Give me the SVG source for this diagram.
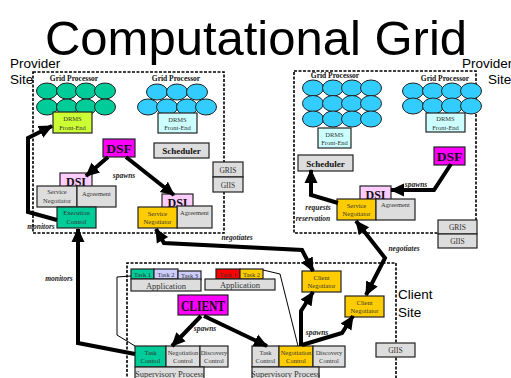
<svg xmlns="http://www.w3.org/2000/svg" width="511" height="378" viewBox="0 0 511 378">
<defs>
<style>
.site{fill:none;stroke:#000;stroke-width:1.6;stroke-dasharray:3,1.5}
.b{stroke:#222;stroke-width:1.2}
.grey{fill:#dddddd}
.green{fill:#00cc99}
.cyan{fill:#33ccff}
.mag{fill:#ff00ff}
.pink{fill:#ffccff}
.gold{fill:#ffcc00}
.lime{fill:#ccff33}
.lcyan{fill:#ccffff}
.lav{fill:#ccccff}
.red{fill:#ff0000}
.cell{stroke:#222;stroke-width:1}
.t{font-family:"Liberation Serif","Times New Roman",serif;fill:#333;text-anchor:middle}
.s6{font-size:6.5px}
.s7{font-size:7.5px}
.s8{font-size:8.5px}
.gp{font-family:"Liberation Serif",serif;font-size:7.5px;font-weight:bold;fill:#111;text-anchor:middle}
.bold{font-weight:bold;fill:#111}
.lbl{font-family:"Liberation Serif",serif;font-size:7.5px;font-style:italic;font-weight:bold;fill:#222;text-anchor:middle}
.sans{font-family:"Liberation Sans",Arial,sans-serif;fill:#000}
.arr{fill:none;stroke:#000;stroke-width:4;stroke-linejoin:miter}
.thin{fill:none;stroke:#000;stroke-width:1}
</style>
<marker id="ah" markerUnits="userSpaceOnUse" markerWidth="15" markerHeight="15" refX="13" refY="7.5" orient="auto">
<path d="M0,1 L14,7.5 L0,14 z" fill="#000"/>
</marker>
<marker id="ahs" markerUnits="userSpaceOnUse" markerWidth="15" markerHeight="15" refX="1" refY="7.5" orient="auto">
<path d="M14,1 L0,7.5 L14,14 z" fill="#000"/>
</marker>
</defs>

<!-- headings -->
<text class="sans" x="256" y="55" font-size="49" text-anchor="middle">Computational Grid</text>
<text class="sans" x="10" y="68" font-size="13.5">Provider</text>
<text class="sans" x="10" y="84" font-size="13.5">Site</text>
<text class="sans" x="462" y="68" font-size="13.5">Provider</text>
<text class="sans" x="488" y="84" font-size="13.5">Site</text>
<text class="sans" x="398" y="299" font-size="13.5">Client</text>
<text class="sans" x="398" y="317" font-size="13.5">Site</text>

<!-- site borders -->
<rect class="site" x="33" y="72" width="191" height="161"/>
<rect class="site" x="294" y="71" width="182" height="162"/>
<path class="site" d="M127,390 V263 H396 V390"/>

<!-- ===== left provider ===== -->
<g id="lp-grid-processor-1">
<text class="gp" x="74" y="81">Grid Processor</text>
<g class="green cell">
<ellipse cx="47" cy="91" rx="10.5" ry="8"/><ellipse cx="67" cy="91" rx="10.5" ry="8"/><ellipse cx="86" cy="91" rx="10.5" ry="8"/><ellipse cx="105" cy="91" rx="10.5" ry="8"/>
<ellipse cx="47" cy="107" rx="10.5" ry="8"/><ellipse cx="67" cy="107" rx="10.5" ry="8"/><ellipse cx="86" cy="107" rx="10.5" ry="8"/><ellipse cx="105" cy="107" rx="10.5" ry="8"/>
</g>
<rect class="lime b" x="53" y="112" width="39" height="21"/>
<text class="t s6" x="72.5" y="121">DRMS</text>
<text class="t s6" x="72.5" y="130">Front-End</text>
</g>

<g id="lp-grid-processor-2">
<text class="gp" x="176" y="81">Grid Processor</text>
<g class="cyan cell">
<ellipse cx="157" cy="92" rx="10.5" ry="8"/><ellipse cx="177" cy="92" rx="10.5" ry="8"/><ellipse cx="197" cy="92" rx="10.5" ry="8"/>
<ellipse cx="148" cy="107" rx="10.5" ry="8"/><ellipse cx="167" cy="107" rx="10.5" ry="8"/><ellipse cx="187" cy="107" rx="10.5" ry="8"/><ellipse cx="206" cy="107" rx="10.5" ry="8"/>
</g>
<rect class="lcyan b" x="158" y="113" width="39" height="20"/>
<text class="t s6" x="177.5" y="121.5">DRMS</text>
<text class="t s6" x="177.5" y="130">Front-End</text>
</g>

<g id="lp-dsf">
<rect class="mag b" x="103" y="139" width="32" height="18"/>
<text class="t bold" x="119" y="153" font-size="13.5">DSF</text>
</g>

<g id="lp-scheduler">
<rect class="grey b" x="154" y="143" width="55" height="15"/>
<text class="t bold" x="181.5" y="154" font-size="9">Scheduler</text>
</g>

<g id="lp-gris">
<rect class="grey b" x="213" y="162" width="30" height="15"/>
<text class="t s7" x="228" y="172.5">GRIS</text>
<rect class="grey b" x="213" y="177" width="30" height="15"/>
<text class="t s7" x="228" y="187.5">GIIS</text>
</g>

<g id="lp-dsi-1">
<rect class="pink b" x="60" y="173" width="32" height="14"/>
<text class="t bold" x="76" y="186" font-size="12">DSI</text>
<rect class="grey b" x="37" y="186" width="40" height="21"/>
<text class="t s6" x="57" y="194">Service</text>
<text class="t s6" x="57" y="202.5">Negotiator</text>
<rect class="grey b" x="77" y="186" width="39" height="21"/>
<text class="t s6" x="96.5" y="196">Agreement</text>
<rect class="green b" x="57" y="207" width="39" height="21"/>
<text class="t s6" x="76.5" y="215">Execution</text>
<text class="t s6" x="76.5" y="224">Control</text>
</g>

<g id="lp-dsi-2">
<rect class="pink b" x="162" y="194" width="31" height="14"/>
<text class="t bold" x="177.5" y="206.5" font-size="12">DSI</text>
<rect class="grey b" x="177" y="206" width="35" height="22"/>
<text class="t s6" x="194.5" y="215">Agreement</text>
<rect class="gold b" x="138" y="207" width="39" height="21"/>
<text class="t s6" x="157.5" y="215.5">Service</text>
<text class="t s6" x="157.5" y="224">Negotiator</text>
</g>

<!-- ===== right provider ===== -->
<g id="rp-grid-processor-1">
<text class="gp" x="335" y="78">Grid Processor</text>
<g class="cyan cell">
<ellipse cx="313" cy="88" rx="10.5" ry="8"/><ellipse cx="333" cy="88" rx="10.5" ry="8"/><ellipse cx="352" cy="88" rx="10.5" ry="8"/><ellipse cx="371" cy="88" rx="10.5" ry="8"/>
<ellipse cx="313" cy="103.5" rx="10.5" ry="8"/><ellipse cx="333" cy="103.5" rx="10.5" ry="8"/><ellipse cx="352" cy="103.5" rx="10.5" ry="8"/><ellipse cx="371" cy="103.5" rx="10.5" ry="8"/>
<ellipse cx="313" cy="119" rx="10.5" ry="8"/><ellipse cx="333" cy="119" rx="10.5" ry="8"/><ellipse cx="352" cy="119" rx="10.5" ry="8"/><ellipse cx="371" cy="119" rx="10.5" ry="8"/>
</g>
<rect class="lcyan b" x="318" y="128" width="33" height="20"/>
<text class="t s6" x="334.5" y="136.5">DRMS</text>
<text class="t s6" x="334.5" y="145">Front-End</text>
</g>

<g id="rp-grid-processor-2">
<text class="gp" x="445" y="81">Grid Processor</text>
<g class="cyan cell">
<ellipse cx="413" cy="91" rx="10.5" ry="8"/><ellipse cx="433" cy="91" rx="10.5" ry="8"/><ellipse cx="452" cy="91" rx="10.5" ry="8"/><ellipse cx="471" cy="91" rx="10.5" ry="8"/>
<ellipse cx="413" cy="106" rx="10.5" ry="8"/><ellipse cx="433" cy="106" rx="10.5" ry="8"/><ellipse cx="452" cy="106" rx="10.5" ry="8"/><ellipse cx="471" cy="106" rx="10.5" ry="8"/>
</g>
<rect class="lcyan b" x="426" y="113" width="39" height="19"/>
<text class="t s6" x="445.5" y="121">DRMS</text>
<text class="t s6" x="445.5" y="129.5">Front-End</text>
</g>

<g id="rp-scheduler">
<rect class="grey b" x="298" y="155" width="55" height="16"/>
<text class="t bold" x="325.5" y="166.5" font-size="9">Scheduler</text>
</g>

<g id="rp-dsf">
<rect class="mag b" x="434" y="147" width="31" height="18"/>
<text class="t bold" x="449.5" y="161" font-size="13.5">DSF</text>
</g>

<g id="rp-dsi">
<rect class="pink b" x="360" y="186" width="31" height="14"/>
<text class="t bold" x="375.5" y="198.5" font-size="12">DSI</text>
<rect class="gold b" x="337" y="199" width="39" height="21"/>
<text class="t s6" x="356.5" y="207.5">Service</text>
<text class="t s6" x="356.5" y="216">Negotiator</text>
<rect class="grey b" x="376" y="199" width="39" height="21"/>
<text class="t s6" x="395.5" y="207">Agreement</text>
</g>

<g id="rp-gris">
<rect class="grey b" x="438" y="220" width="39" height="14"/>
<text class="t s7" x="457.5" y="230">GRIS</text>
<rect class="grey b" x="438" y="234" width="39" height="14"/>
<text class="t s7" x="457.5" y="244">GIIS</text>
</g>

<!-- ===== client site ===== -->
<g id="app-1">
<rect class="green b" x="131" y="269" width="23" height="10"/>
<text class="t s6" x="142.5" y="276.5">Task 1</text>
<rect class="lav b" x="154" y="269" width="24" height="10"/>
<text class="t s6" x="166" y="276.5">Task 2</text>
<rect class="lav b" x="178" y="271" width="23" height="9"/>
<text class="t s6" x="189.5" y="278">Task 3</text>
<rect class="grey b" x="131" y="279" width="70" height="12"/>
<text class="t s8" x="166" y="288.5">Application</text>
</g>

<g id="app-2">
<rect class="red b" x="216" y="269" width="24" height="10"/>
<text class="t s6" x="228" y="276.5">Task 1</text>
<rect class="gold b" x="240" y="269" width="23" height="10"/>
<text class="t s6" x="251.5" y="276.5">Task 2</text>
<rect class="grey b" x="205" y="279" width="70" height="11"/>
<text class="t s8" x="240" y="288">Application</text>
</g>

<g id="client">
<rect class="mag b" x="178" y="295" width="50" height="20"/>
<text class="t bold" x="203" y="310.5" font-size="14" textLength="44" lengthAdjust="spacingAndGlyphs">CLIENT</text>
</g>

<g id="client-negotiator-1">
<rect class="gold b" x="302" y="271" width="39" height="21"/>
<text class="t s6" x="321.5" y="279.5">Client</text>
<text class="t s6" x="321.5" y="288">Negotiator</text>
</g>

<g id="client-negotiator-2">
<rect class="gold b" x="345" y="296" width="39" height="21"/>
<text class="t s6" x="364.5" y="304.5">Client</text>
<text class="t s6" x="364.5" y="313">Negotiator</text>
</g>

<g id="client-giis">
<rect class="grey b" x="376" y="343" width="39" height="14"/>
<text class="t s7" x="395.5" y="353">GIIS</text>
</g>

<g id="supervisor-1">
<rect class="green b" x="135" y="346" width="31" height="21"/>
<text class="t s6" x="150.5" y="354.5">Task</text>
<text class="t s6" x="150.5" y="363">Control</text>
<rect class="grey b" x="166" y="346" width="34" height="21"/>
<text class="t s6" x="183" y="354.5">Negotiation</text>
<text class="t s6" x="183" y="363">Control</text>
<rect class="grey b" x="200" y="346" width="28" height="21"/>
<text class="t s6" x="214" y="354.5">Discovery</text>
<text class="t s6" x="214" y="363">Control</text>
<rect class="grey b" x="135" y="367" width="69" height="14"/>
<text class="t s8" x="169.5" y="377">Supervisory Process</text>
</g>

<g id="supervisor-2">
<rect class="grey b" x="252" y="346" width="27" height="21"/>
<text class="t s6" x="265.5" y="354.5">Task</text>
<text class="t s6" x="265.5" y="363">Control</text>
<rect class="gold b" x="279" y="346" width="34" height="21"/>
<text class="t s6" x="296" y="354.5">Negotiation</text>
<text class="t s6" x="296" y="363">Control</text>
<rect class="grey b" x="313" y="346" width="32" height="21"/>
<text class="t s6" x="329" y="354.5">Discovery</text>
<text class="t s6" x="329" y="363">Control</text>
<rect class="grey b" x="252" y="367" width="67" height="14"/>
<text class="t s8" x="285.5" y="377">Supervisory Process</text>
</g>

<!-- ===== connectors ===== -->
<g id="connectors">
<!-- spawns (left provider) -->
<path class="arr" d="M108,157 L86,176" marker-end="url(#ah)"/>
<path class="arr" d="M126,157 L174,195" marker-end="url(#ah)"/>
<text class="lbl" x="124" y="178">spawns</text>
<!-- monitors DRMS -->
<path class="arr" d="M57,220 L28,212 V138 L52,126" marker-end="url(#ah)"/>
<text class="lbl" x="41" y="229">monitors</text>
<!-- monitors execution control -->
<path class="arr" d="M135,354 L78,343 V229" marker-end="url(#ah)"/>
<text class="lbl" x="59" y="281">monitors</text>
<!-- spawns (right provider) -->
<path class="arr" d="M451,164 L434,190 H391" marker-end="url(#ah)"/>
<text class="lbl" x="416" y="187">spawns</text>
<!-- requests reservation -->
<path class="arr" d="M338,203 L311,195 V170" marker-end="url(#ah)"/>
<text class="lbl" x="318" y="210">requests</text>
<text class="lbl" x="313" y="221">reservation</text>
<!-- negotiates -->
<path class="arr" d="M156,229 L164,243 L302,250 L313,271" marker-start="url(#ahs)" marker-end="url(#ah)"/>
<text class="lbl" x="237" y="240">negotiates</text>
<path class="arr" d="M356,221 L385,258 L366,295" marker-start="url(#ahs)" marker-end="url(#ah)"/>
<text class="lbl" x="404" y="251">negotiates</text>
<!-- spawns (client) -->
<path class="arr" d="M201,316 L172,346" marker-end="url(#ah)"/>
<path class="arr" d="M204,316 L267,346" marker-end="url(#ah)"/>
<text class="lbl" x="205" y="331">spawns</text>
<path class="arr" d="M301,346 V311 L313,292" marker-end="url(#ah)"/>
<path class="arr" d="M302,345 L342,333 L353,316" marker-end="url(#ah)"/>
<text class="lbl" x="317" y="335">spawns</text>
<!-- task links -->
<path class="thin" d="M131,276 L117,277 V335 L135,346"/>
<path class="thin" d="M263,270 L280,274 L298,346"/>
</g>
</svg>
